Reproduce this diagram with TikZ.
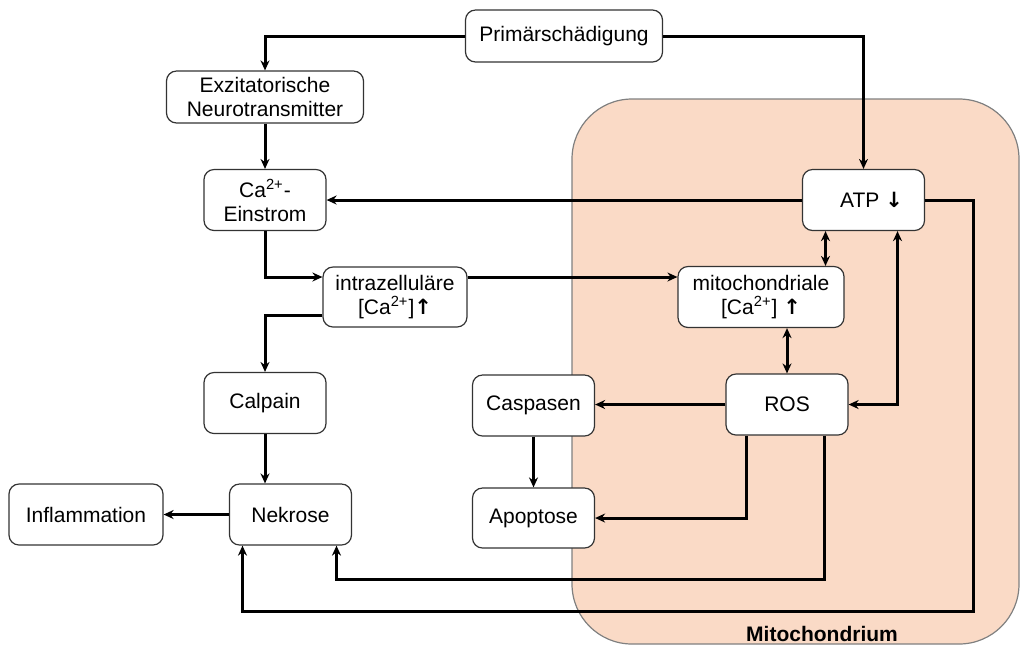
\documentclass[tikz,border=0pt]{standalone}
\usepackage{fontspec}
\setmainfont{Liberation Sans}
\newfontfamily\pfeilfont{DejaVu Sans}
\usetikzlibrary{arrows.meta}
\definecolor{mitofill}{RGB}{250,218,198}
\newcommand{\pfeilhoch}{{\pfeilfont\bfseries ↑}}
\newcommand{\pfeilrunter}{{\pfeilfont\bfseries ↓}}
\newcommand{\caion}{Ca\textsuperscript{2+}}
\begin{document}
\begin{tikzpicture}[x=0.5pt,y=-0.5pt,>={Stealth[length=5pt,width=4.5pt]},line width=1.5pt]
        \tikzstyle{kbox} = [draw=black!80, line width=0.6pt, rounded corners=5pt, fill=white, align=center, inner sep=2pt,
                            minimum width=61pt, minimum height=30.5pt, font=\fontsize{10.5}{12}\selectfont]
        \useasboundingbox (0,0) rectangle (1021,645);
        \filldraw[fill=mitofill, draw=gray, line width=0.6pt, rounded corners=30pt] (572,99) rectangle (1019,644);
        \node[font=\fontsize{10.5}{12}\selectfont\bfseries] (mitolabel) at (822,634) {Mitochondrium};

        \node[kbox, minimum width=98.5pt, minimum height=26pt] (prim) at (564,36) {Primärschädigung};
        \node[kbox, minimum width=98.5pt, minimum height=26pt] (exz) at (265,97) {Exzitatorische\\Neurotransmitter};
        \node[kbox] (ca) at (265,200) {\caion-\\Einstrom};
        \node[kbox, minimum width=72pt, minimum height=30pt] (intra) at (395,297) {intrazelluläre\\{}[\caion]\pfeilhoch};
        \node[kbox] (atp) at (863.5,200) {\hspace*{8pt}ATP \pfeilrunter};
        \node[kbox, minimum width=83pt] (mito) at (761,297) {mitochondriale\\{}[\caion] \pfeilhoch};
        \node[kbox] (calpain) at (265,403) {Calpain};
        \node[kbox] (nekrose) at (290.5,514.5) {Nekrose};
        \node[kbox, minimum width=77pt] (inflam) at (86,514.5) {Inflammation};
        \node[kbox] (caspasen) at (533.5,405.5) {Caspasen};
        \node[kbox, minimum height=30pt] (apoptose) at (533.5,518) {Apoptose};
        \node[kbox] (ros) at (787,404.5) {ROS};

        \draw[->] (prim.west) -| (exz.north);
        \draw[->] (prim.east) -| (atp.north);
        \draw[->] (exz.south) -- (ca.north);
        \draw[->] (atp.west) -- (ca.east);
        \draw[->] (ca.south) |- ([yshift=10pt]intra.west);
        \draw[->] ([yshift=10pt]intra.east) -- ([yshift=10pt]mito.west);
        \draw[->] ([yshift=-9pt]intra.west) -| (calpain.north);
        \draw[->] (calpain.south) -- (calpain.south |- nekrose.north);
        \draw[->] (nekrose.west) -- (inflam.east);

        \draw[<->] ([xshift=-19pt]atp.south) -- ([xshift=-19pt]atp.south |- mito.north);
        \draw[<->] (ros.north) -- (ros.north |- mito.south);
        \draw[<->] ([xshift=17pt]atp.south) |- (ros.east);
        \draw[->] (ros.west) -- (ros.west -| caspasen.east);
        \draw[->] (caspasen.south) -- (apoptose.north);
        \draw[->] ([xshift=-20.5pt]ros.south) |- (apoptose.east);
        \draw[->] ([xshift=18.5pt]ros.south) -- ++(0,144) -| ([xshift=23pt]nekrose.south);
        \draw[->] (atp.east) -- ++(48,0) -- ++(0,411) -| ([xshift=-24pt]nekrose.south);
      \end{tikzpicture}
\end{document}
